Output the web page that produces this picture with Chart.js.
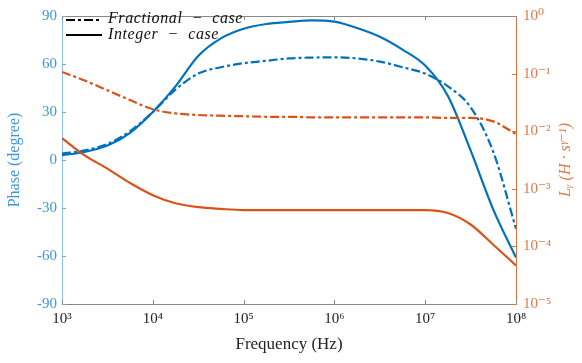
<!DOCTYPE html>
<html>
<head>
<meta charset="utf-8">
<script src="https://cdn.jsdelivr.net/npm/chart.js@4.4.1/dist/chart.umd.min.js"></script>
<style>
  html, body { margin: 0; padding: 0; background: #fff; }
  #wrap { width: 582px; height: 363px; }
</style>
</head>
<body>
<div id="wrap"><canvas id="myChart" width="582" height="363"></canvas></div>
<script>
// frequency samples (Hz), quarter decades from 1e3 to 1e8
const freq = [1000, 1778, 3162, 5623, 10000, 17783, 31623, 56234,
  100000, 177828, 316228, 562341, 1000000, 1778279, 3162278, 5623413,
  10000000, 17782794, 31622777, 56234133, 100000000]

// phase (degree), left axis
const phaseFrac = [4, 6, 10, 18, 30, 44, 54, 58, 60.5, 62, 63.5, 64, 64.2,
  63.5, 61.5, 58, 54, 46, 33, 5, -43]
const phaseInt = [3, 5, 9, 17, 30, 46, 65, 76, 82, 85, 86.3, 87.3, 86.5,
  82.5, 77, 69, 59, 40, 6, -31, -61]

// L_gamma (H s^(gamma-1)), right axis
const lFrac = [0.107, 0.0759, 0.0513, 0.0347, 0.024, 0.0204, 0.0191, 0.0186,
  0.0182, 0.0178, 0.0178, 0.0174, 0.0174, 0.0174, 0.0174, 0.0174, 0.0174,
  0.017, 0.017, 0.0148, 0.0089]
const lInt = [0.00759, 0.0038, 0.00224, 0.00126, 0.000776, 0.000562, 0.000479,
  0.000447, 0.000427, 0.000427, 0.000427, 0.000427, 0.000427, 0.000427,
  0.000427, 0.000427, 0.000427, 0.00038, 0.00024, 0.000107, 0.0000468]

const xTicks = [1e3, 1e4, 1e5, 1e6, 1e7, 1e8]
const xTickLabels = ['10³', '10⁴', '10⁵', '10⁶', '10⁷', '10⁸']
const lTicks = [1e-5, 1e-4, 1e-3, 1e-2, 1e-1, 1]
const lTickLabels = ['10⁻⁵', '10⁻⁴', '10⁻³', '10⁻²', '10⁻¹', '10⁰']

const BLUE = '#0072BD'
const ORANGE = '#D95319'
const serif = "'Liberation Serif', 'DejaVu Serif', serif"
const fracDash = [9, 3, 3, 3]

const toXY = (ys) => freq.map((f, i) => ({ x: f, y: ys[i] }))

// box, inward ticks, legend and right axis title
const framePlugin = {
  id: 'frame',
  afterDraw(chart) {
    const ctx = chart.ctx
    const a = chart.chartArea
    const sx = chart.scales.x, sy = chart.scales.y, sr = chart.scales.y1
    ctx.save()
    ctx.lineWidth = 1
    ctx.strokeStyle = '#888'
    ctx.beginPath()
    ctx.moveTo(a.left, a.top + 0.5)
    ctx.lineTo(a.right, a.top + 0.5)
    xTicks.forEach(v => {
      const px = Math.round(sx.getPixelForValue(v)) + 0.5
      ctx.moveTo(px, a.bottom); ctx.lineTo(px, a.bottom - 4)
      ctx.moveTo(px, a.top); ctx.lineTo(px, a.top + 4)
    })
    ctx.stroke()
    ctx.strokeStyle = '#6aaee0'
    ctx.beginPath()
    sy.ticks.forEach(t => {
      const py = Math.round(sy.getPixelForValue(t.value)) + 0.5
      ctx.moveTo(a.left, py); ctx.lineTo(a.left + 4, py)
    })
    ctx.stroke()
    ctx.strokeStyle = '#d9703f'
    ctx.beginPath()
    lTicks.forEach(v => {
      const py = Math.round(sr.getPixelForValue(v)) + 0.5
      ctx.moveTo(a.right, py); ctx.lineTo(a.right - 4, py)
    })
    ctx.stroke()

    // legend
    const lx = a.left + 4
    ctx.strokeStyle = '#000'
    ctx.lineWidth = 2
    ctx.setLineDash(fracDash)
    ctx.beginPath(); ctx.moveTo(lx, 20); ctx.lineTo(lx + 36, 20); ctx.stroke()
    ctx.setLineDash([])
    ctx.beginPath(); ctx.moveTo(lx, 35); ctx.lineTo(lx + 36, 35); ctx.stroke()
    ctx.fillStyle = '#111'
    ctx.font = 'italic 16px ' + serif
    ctx.letterSpacing = '0.6px'
    ctx.textBaseline = 'middle'
    ctx.fillText('Fractional  −  case', lx + 42, 19)
    ctx.fillText('Integer  −  case', lx + 42, 35)

    // right axis title, reading bottom to top
    ctx.letterSpacing = '0px'
    ctx.translate(566, (a.top + a.bottom) / 2)
    ctx.rotate(-Math.PI / 2)
    ctx.textAlign = 'center'
    ctx.fillStyle = '#e07a4a'
    ctx.font = 'italic 16px ' + serif
    ctx.fillText('Lᵧ (H · sᵞ⁻¹)', 0, 0)
    ctx.restore()
  }
}

let myChart = document.getElementById('myChart').getContext('2d')
let bodeChart = new Chart(myChart, {
  type: 'line',
  data: {
    datasets: [
      { label: 'L fractional', data: toXY(lFrac), yAxisID: 'y1', borderColor: ORANGE,
        borderWidth: 2.2, borderDash: fracDash },
      { label: 'L integer', data: toXY(lInt), yAxisID: 'y1', borderColor: ORANGE,
        borderWidth: 2.2 },
      { label: 'Phase fractional', data: toXY(phaseFrac), yAxisID: 'y', borderColor: BLUE,
        borderWidth: 2.2, borderDash: fracDash },
      { label: 'Phase integer', data: toXY(phaseInt), yAxisID: 'y', borderColor: BLUE,
        borderWidth: 2.2 }
    ]
  },
  options: {
    responsive: false,
    animation: false,
    devicePixelRatio: 1,
    layout: { padding: { top: 11, left: 0, right: 0, bottom: 0 } },
    elements: {
      point: { radius: 0 },
      line: { cubicInterpolationMode: 'monotone', fill: false }
    },
    plugins: {
      legend: { display: false },
      tooltip: { enabled: false }
    },
    scales: {
      x: {
        type: 'logarithmic',
        position: 'bottom',
        min: 1e3,
        max: 1e8,
        afterBuildTicks: s => { s.ticks = xTicks.map(v => ({ value: v })) },
        afterFit: s => { s.height = 59 },
        ticks: {
          autoSkip: false,
          maxRotation: 0,
          color: '#222',
          padding: 6,
          font: { family: serif, size: 15 },
          callback: (v, i) => xTickLabels[i]
        },
        grid: { display: false, drawTicks: false },
        border: { color: '#888' },
        title: {
          display: true,
          text: 'Frequency (Hz)',
          color: '#222',
          padding: { top: 0, bottom: 8 },
          font: { family: serif, size: 17 }
        }
      },
      y: {
        type: 'linear',
        position: 'left',
        min: -90,
        max: 90,
        afterFit: s => { s.width = 62 },
        ticks: {
          stepSize: 30,
          color: '#3f97d6',
          padding: 5,
          font: { family: serif, size: 15 },
          callback: v => String(v)
        },
        grid: { display: false, drawTicks: false },
        border: { color: '#8ec3ea' },
        title: {
          display: true,
          text: 'Phase (degree)',
          color: '#3f97d6',
          padding: { top: 5, bottom: 0 },
          font: { family: serif, size: 16 }
        }
      },
      y1: {
        type: 'logarithmic',
        position: 'right',
        min: 1e-5,
        max: 1,
        afterBuildTicks: s => { s.ticks = lTicks.map(v => ({ value: v })) },
        afterFit: s => { s.width = 66 },
        ticks: {
          autoSkip: false,
          color: '#e07a4a',
          padding: 7,
          font: { family: serif, size: 15 },
          callback: (v, i) => lTickLabels[i]
        },
        grid: { display: false, drawTicks: false },
        border: { color: '#e0703a' },
        title: { display: false }
      }
    }
  },
  plugins: [framePlugin]
})
</script>
</body>
</html>
